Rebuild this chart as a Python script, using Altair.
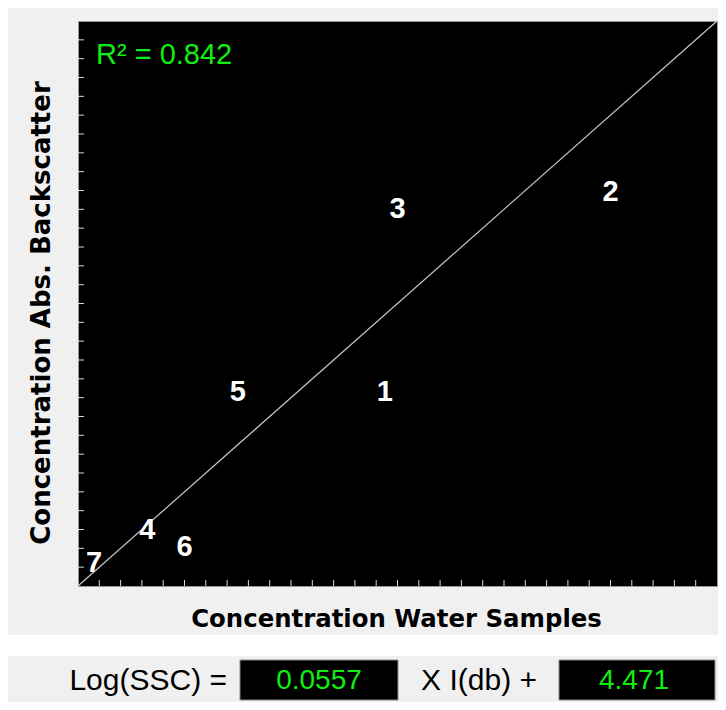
import altair as alt
import pandas as pd

# ---- data ----
sample_ids = ["1", "2", "3", "4", "5", "6", "7"]
conc_water = [14.4, 25.0, 15.0, 3.25, 7.5, 5.0, 0.75]
conc_backscatter = [10.3, 20.9, 20.0, 2.95, 10.3, 2.05, 1.2]
axis_ticks = list(range(1, 30))
axis_range = [0, 30]
r_squared = 0.842
slope_txt = "0.0557"
intercept_txt = "4.471"
lhs_txt = "Log(SSC) ="
mid_txt = "X I(db) +"
x_title = "Concentration Water Samples"
y_title = "Concentration Abs. Backscatter"

W, H = 639, 565
GREEN = "#11ee11"
TICK = "#d8d8d8"

points = pd.DataFrame({"id": sample_ids, "water": conc_water, "abs": conc_backscatter})
ticks = pd.DataFrame({"t": axis_ticks})
diag = pd.DataFrame({"water": axis_range, "abs": axis_range})
one = pd.DataFrame({"a": [0]})

xs = alt.Scale(domain=axis_range, nice=False, zero=False)
ys = alt.Scale(domain=axis_range, nice=False, zero=False)

diag_line = alt.Chart(diag).mark_line(color="#c8c8c8", strokeWidth=1.2).encode(
    x=alt.X("water:Q", scale=xs, axis=None),
    y=alt.Y("abs:Q", scale=ys, axis=None),
)

x_ticks = alt.Chart(ticks).mark_rule(color=TICK, strokeWidth=1).encode(
    x=alt.X("t:Q", scale=xs, axis=None),
    y=alt.value(H),
    y2=alt.value(H - 6),
)
y_ticks = alt.Chart(ticks).mark_rule(color=TICK, strokeWidth=1).encode(
    y=alt.Y("t:Q", scale=ys, axis=None),
    x=alt.value(0),
    x2=alt.value(6),
)

labels = alt.Chart(points).mark_text(
    font="Liberation Sans", fontSize=29, fontWeight="bold", color="white",
    align="center", baseline="middle",
).encode(
    x=alt.X("water:Q", scale=xs, axis=None),
    y=alt.Y("abs:Q", scale=ys, axis=None),
    text="id:N",
)

r2 = alt.Chart(pd.DataFrame({"txt": [f"R\u00b2 = {r_squared:.3f}"]})).mark_text(
    font="Liberation Sans", fontSize=29, color=GREEN, align="left", baseline="middle",
).encode(x=alt.value(18), y=alt.value(34), text="txt:N")

# axis titles
xt = alt.Chart(pd.DataFrame({"txt": [x_title]})).mark_text(
    font="DejaVu Sans", fontSize=24.4, fontWeight="bold", color="black",
    align="center", baseline="middle",
).encode(x=alt.value(W / 2 - 1), y=alt.value(599), text="txt:N")
yt = alt.Chart(pd.DataFrame({"txt": [y_title]})).mark_text(
    font="DejaVu Sans", fontSize=26, fontWeight="bold", color="black",
    align="center", baseline="middle", angle=270,
).encode(x=alt.value(-36), y=alt.value(292), text="txt:N")

# ---- formula bar below the plot ----
gap = alt.Chart(one).mark_rect(color="white").encode(
    x=alt.value(-72), x2=alt.value(W + 4), y=alt.value(614), y2=alt.value(635)
)
box1 = alt.Chart(one).mark_rect(fill="black", stroke="#8a8a8a", strokeWidth=1).encode(
    x=alt.value(162), x2=alt.value(320), y=alt.value(639), y2=alt.value(679)
)
box2 = alt.Chart(one).mark_rect(fill="black", stroke="#8a8a8a", strokeWidth=1).encode(
    x=alt.value(481), x2=alt.value(637), y=alt.value(639), y2=alt.value(679)
)
lhs = alt.Chart(pd.DataFrame({"txt": [lhs_txt]})).mark_text(
    font="Liberation Sans", fontSize=30, color="black", align="right", baseline="middle"
).encode(x=alt.value(149), y=alt.value(660), text="txt:N")
mid = alt.Chart(pd.DataFrame({"txt": [mid_txt]})).mark_text(
    font="Liberation Sans", fontSize=30, color="black", align="right", baseline="middle"
).encode(x=alt.value(459), y=alt.value(660), text="txt:N")
slope = alt.Chart(pd.DataFrame({"txt": [slope_txt]})).mark_text(
    font="Liberation Sans", fontSize=28, color=GREEN, align="center", baseline="middle"
).encode(x=alt.value(241), y=alt.value(660), text="txt:N")
intercept = alt.Chart(pd.DataFrame({"txt": [intercept_txt]})).mark_text(
    font="Liberation Sans", fontSize=28, color=GREEN, align="center", baseline="middle"
).encode(x=alt.value(556), y=alt.value(660), text="txt:N")

chart = alt.layer(
    diag_line, x_ticks, y_ticks, labels, r2, xt, yt, gap, box1, box2, lhs, mid, slope, intercept
).properties(
    width=W, height=H,
    autosize=alt.AutoSizeParams(type="none"),
    padding={"left": 70, "top": 13, "right": 1, "bottom": 116},
    background="#f0f0f0",
).configure_view(
    fill="black", stroke="#9a9a9a", strokeWidth=1
)

chart.save("out.html", embed_options={"renderer": "svg", "actions": False})
